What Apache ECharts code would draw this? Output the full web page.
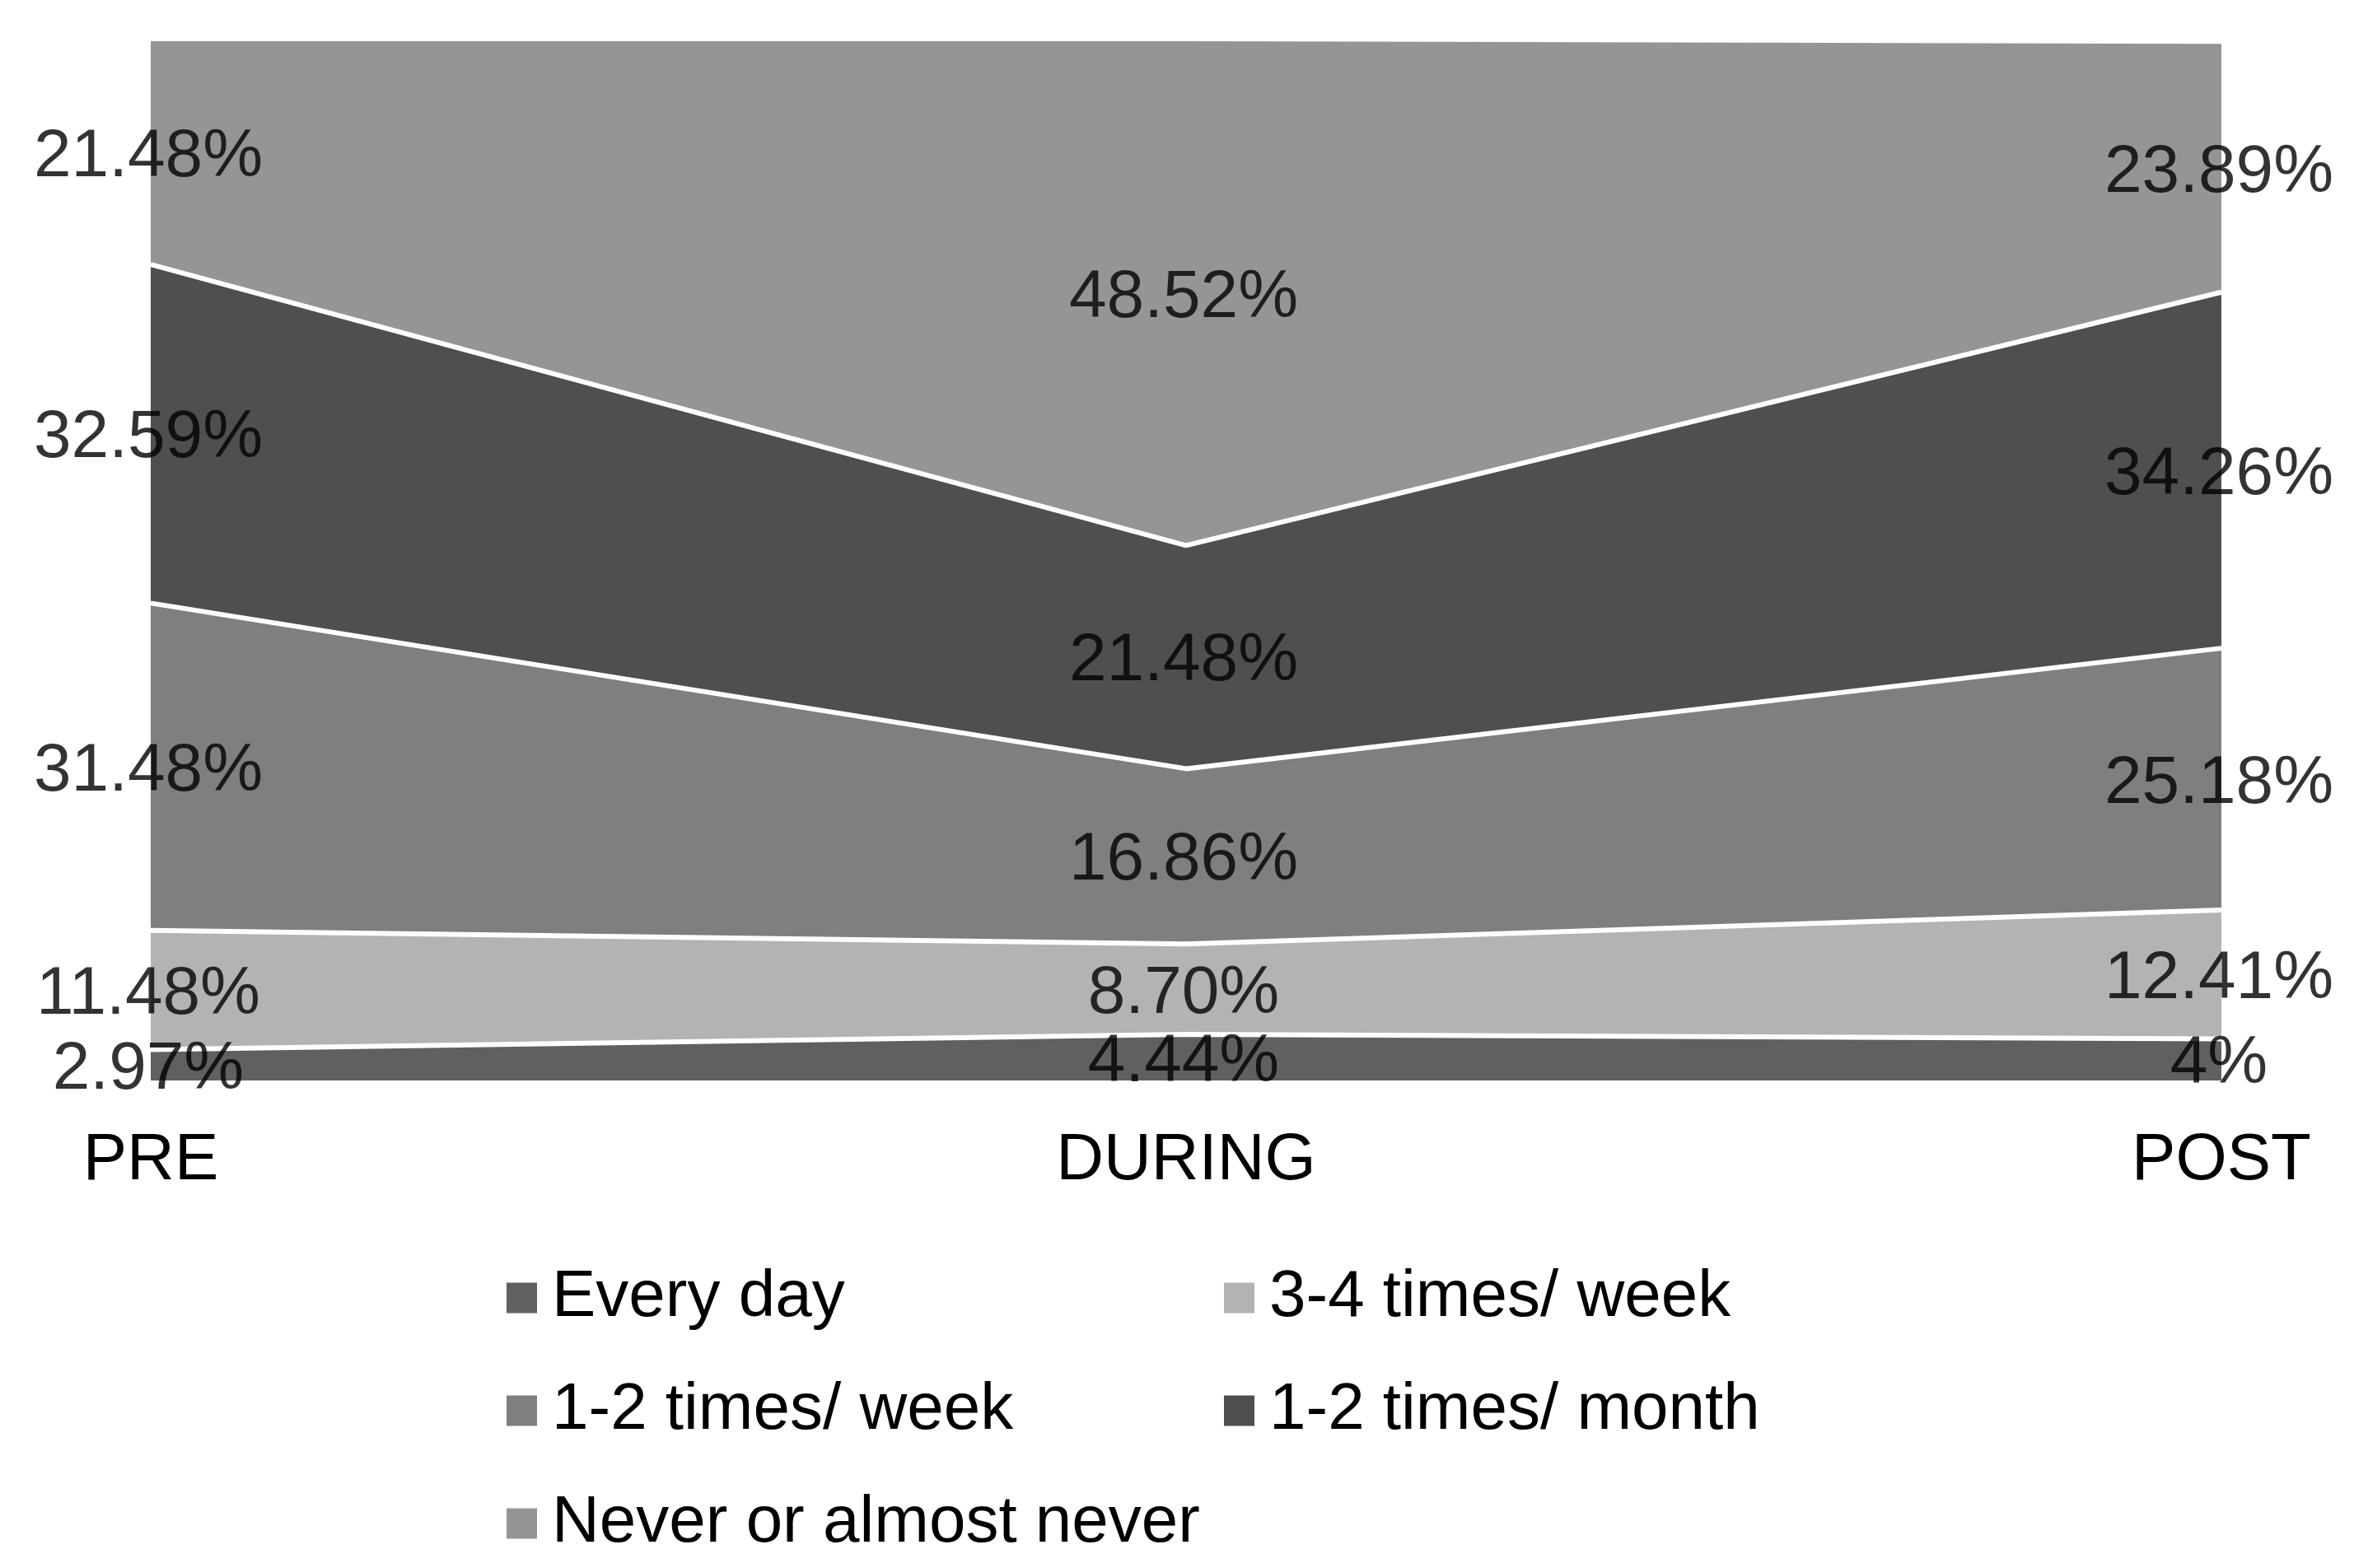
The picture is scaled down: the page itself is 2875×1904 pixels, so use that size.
<!DOCTYPE html>
<html><head><meta charset="utf-8">
<script src="https://cdn.jsdelivr.net/npm/echarts@6/dist/echarts.min.js"></script>
<style>html,body{margin:0;padding:0;background:#fff}#c{width:2875px;height:1904px}</style>
</head><body><div id="c"></div>
<script>
const categories = ['PRE', 'DURING', 'POST'];
const seriesNames = ['Every day', '3-4 times/ week', '1-2 times/ week', '1-2 times/ month', 'Never or almost never'];
const everyDay = [2.97, 4.44, 4];
const threeFour = [11.48, 8.70, 12.41];
const oneTwoWeek = [31.48, 16.86, 25.18];
const oneTwoMonth = [32.59, 21.48, 34.26];
const never = [21.48, 48.52, 23.89];
const colors = ['#606060', '#b3b3b3', '#7f7f7f', '#4f4f4f', '#959595'];

const allData = [everyDay, threeFour, oneTwoWeek, oneTwoMonth, never];
const FONT = 'Liberation Sans, Arial, sans-serif';
const fmt = v => (Number.isInteger(v) ? String(v) : v.toFixed(2)) + '%';

const series = [];
allData.forEach((d, i) => {
  series.push({
    name: seriesNames[i], type: 'line', stack: 'total', data: d,
    symbol: 'none', smooth: false, z: 10 - i,
    lineStyle: { color: '#ffffff', width: i === 4 ? 0 : 6 },
    itemStyle: { color: colors[i] },
    areaStyle: { color: colors[i], opacity: 1 },
    emphasis: { disabled: true }, silent: true
  });
});
// label positions: middle of each band
allData.forEach((d, i) => {
  const pts = d.map((v, j) => {
    let base = 0;
    for (let k = 0; k < i; k++) base += allData[k][j];
    return [categories[j], base + v / 2, v];
  });
  series.push({
    name: '_lbl' + i, type: 'scatter', data: pts, symbolSize: 1, z: 20,
    itemStyle: { color: 'rgba(0,0,0,0)' }, silent: true,
    label: { show: true, position: 'inside', offset: [-3, 6], color: '#000', fontSize: 82, fontFamily: FONT,
      textBorderWidth: 0, formatter: p => fmt(p.data[2]) }
  });
});

const legendText = { color: '#000', fontSize: 80, fontFamily: FONT, lineHeight: 80, padding: [0, 0, 0, 13] };
const chart = echarts.init(document.getElementById('c'));
chart.setOption({
  animation: false,
  backgroundColor: '#ffffff',
  grid: { left: 183, right: 178, top: 50, bottom: 592 },
  xAxis: {
    type: 'category', data: categories, boundaryGap: false,
    axisLine: { show: false }, axisTick: { show: false }, splitLine: { show: false },
    axisLabel: { color: '#000', fontSize: 80, fontFamily: FONT, margin: 58 }
  },
  yAxis: { type: 'value', min: 0, max: 100, show: false, splitLine: { show: false } },
  legend: [
    { data: [seriesNames[0], seriesNames[2], seriesNames[4]], orient: 'vertical', left: 610, top: 1531,
      itemWidth: 37, itemHeight: 37, itemGap: 57, icon: 'rect', textStyle: legendText, selectedMode: false },
    { data: [seriesNames[1], seriesNames[3]], orient: 'vertical', left: 1481, top: 1531,
      itemWidth: 37, itemHeight: 37, itemGap: 57, icon: 'rect', textStyle: legendText, selectedMode: false }
  ],
  series: series
});
</script></body></html>
